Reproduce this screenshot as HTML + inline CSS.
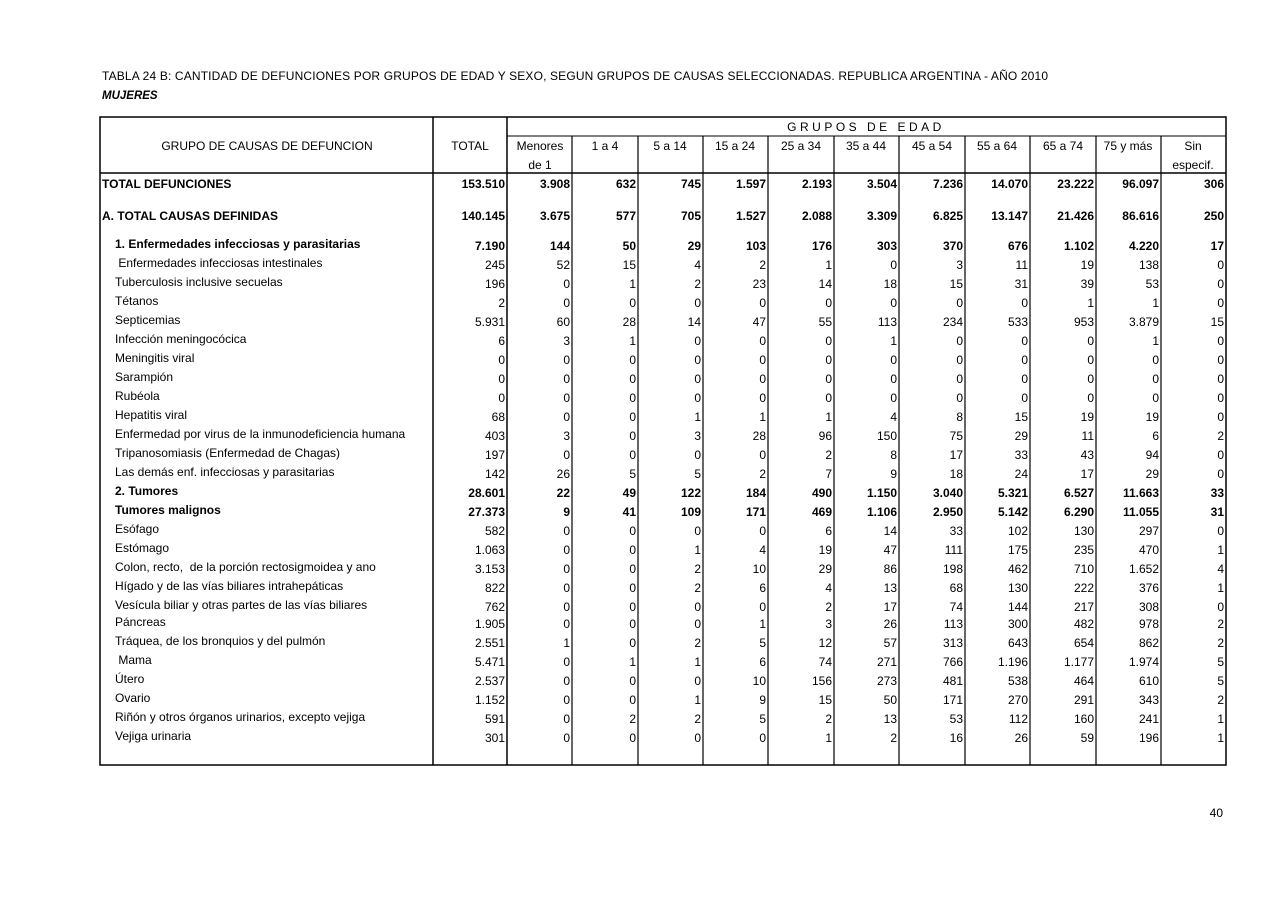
<!DOCTYPE html>
<html><head><meta charset="utf-8"><style>
body{margin:0;background:#fff}
svg{display:block;font-family:"Liberation Sans",Arial,sans-serif;font-size:12px;fill:#000}
.b{font-weight:bold}
</style></head><body>
<svg width="1280" height="905" xmlns="http://www.w3.org/2000/svg">
<text x="102" y="80" font-size="12" textLength="946" lengthAdjust="spacing">TABLA 24 B: CANTIDAD DE DEFUNCIONES POR GRUPOS DE EDAD Y SEXO,  SEGUN GRUPOS DE CAUSAS SELECCIONADAS. REPUBLICA ARGENTINA - AÑO 2010</text>
<text x="102" y="99" class="b" font-style="italic" font-size="11.5">MUJERES</text>
<g stroke="#000" fill="none">
<rect x="100" y="117" width="1126" height="648" stroke-width="1.5"/>
<line x1="100" y1="173" x2="1226" y2="173" stroke-width="1.5"/>
<line x1="507" y1="136" x2="1226" y2="136"/>
<line x1="433" y1="117" x2="433" y2="765" stroke-width="1.5"/>
<line x1="507" y1="117" x2="507" y2="765" stroke-width="1.5"/>
<g stroke-width="1.2">
<line x1="572" y1="136" x2="572" y2="765"/><line x1="638" y1="136" x2="638" y2="765"/>
<line x1="703" y1="136" x2="703" y2="765"/><line x1="768" y1="136" x2="768" y2="765"/>
<line x1="834" y1="136" x2="834" y2="765"/><line x1="899" y1="136" x2="899" y2="765"/>
<line x1="965" y1="136" x2="965" y2="765"/><line x1="1030" y1="136" x2="1030" y2="765"/>
<line x1="1096" y1="136" x2="1096" y2="765"/><line x1="1161" y1="136" x2="1161" y2="765"/>
</g></g>
<text x="866" y="131" text-anchor="middle" letter-spacing="3.5">GRUPOS DE EDAD</text>
<g text-anchor="middle">
<text x="267" y="150">GRUPO DE CAUSAS DE DEFUNCION</text>
<text x="470" y="150">TOTAL</text>
<text x="540" y="150">Menores</text><text x="540" y="169">de 1</text>
<text x="605" y="150">1 a 4</text><text x="670" y="150">5 a 14</text>
<text x="735" y="150">15 a 24</text><text x="801" y="150">25 a 34</text>
<text x="866" y="150">35 a 44</text><text x="932" y="150">45 a 54</text>
<text x="997" y="150">55 a 64</text><text x="1063" y="150">65 a 74</text>
<text x="1128" y="150">75 y más</text>
<text x="1193" y="150">Sin</text><text x="1193" y="169">especif.</text>
</g>
<g id="rows"></g>
<text x="1223" y="817" text-anchor="end">40</text>
</svg>
<script>
const R=[
["TOTAL DEFUNCIONES",102,1,184,"153.510 3.908 632 745 1.597 2.193 3.504 7.236 14.070 23.222 96.097 306"],
["A. TOTAL CAUSAS DEFINIDAS",102,1,216,"140.145 3.675 577 705 1.527 2.088 3.309 6.825 13.147 21.426 86.616 250"],
["1. Enfermedades infecciosas y parasitarias",115,1,246,"7.190 144 50 29 103 176 303 370 676 1.102 4.220 17"],
[" Enfermedades infecciosas intestinales",115,0,265,"245 52 15 4 2 1 0 3 11 19 138 0"],
["Tuberculosis inclusive secuelas",115,0,284,"196 0 1 2 23 14 18 15 31 39 53 0"],
["Tétanos",115,0,303,"2 0 0 0 0 0 0 0 0 1 1 0"],
["Septicemias",115,0,322,"5.931 60 28 14 47 55 113 234 533 953 3.879 15"],
["Infección meningocócica",115,0,341,"6 3 1 0 0 0 1 0 0 0 1 0"],
["Meningitis viral",115,0,360,"0 0 0 0 0 0 0 0 0 0 0 0"],
["Sarampión",115,0,379,"0 0 0 0 0 0 0 0 0 0 0 0"],
["Rubéola",115,0,398,"0 0 0 0 0 0 0 0 0 0 0 0"],
["Hepatitis viral",115,0,417,"68 0 0 1 1 1 4 8 15 19 19 0"],
["Enfermedad por virus de la inmunodeficiencia humana",115,0,436,"403 3 0 3 28 96 150 75 29 11 6 2"],
["Tripanosomiasis (Enfermedad de Chagas)",115,0,455,"197 0 0 0 0 2 8 17 33 43 94 0"],
["Las demás enf. infecciosas y parasitarias",115,0,474,"142 26 5 5 2 7 9 18 24 17 29 0"],
["2. Tumores",115,1,493,"28.601 22 49 122 184 490 1.150 3.040 5.321 6.527 11.663 33"],
["Tumores malignos",115,1,512,"27.373 9 41 109 171 469 1.106 2.950 5.142 6.290 11.055 31"],
["Esófago",115,0,531,"582 0 0 0 0 6 14 33 102 130 297 0"],
["Estómago",115,0,550,"1.063 0 0 1 4 19 47 111 175 235 470 1"],
["Colon, recto,  de la porción rectosigmoidea y ano",115,0,569,"3.153 0 0 2 10 29 86 198 462 710 1.652 4"],
["Hígado y de las vías biliares intrahepáticas",115,0,588,"822 0 0 2 6 4 13 68 130 222 376 1"],
["Vesícula biliar y otras partes de las vías biliares",115,0,607,"762 0 0 0 0 2 17 74 144 217 308 0"],
["Páncreas",115,0,624,"1.905 0 0 0 1 3 26 113 300 482 978 2"],
["Tráquea, de los bronquios y del pulmón",115,0,643,"2.551 1 0 2 5 12 57 313 643 654 862 2"],
[" Mama",115,0,662,"5.471 0 1 1 6 74 271 766 1.196 1.177 1.974 5"],
["Útero",115,0,681,"2.537 0 0 0 10 156 273 481 538 464 610 5"],
["Ovario",115,0,700,"1.152 0 0 1 9 15 50 171 270 291 343 2"],
["Riñón y otros órganos urinarios, excepto vejiga",115,0,719,"591 0 2 2 5 2 13 53 112 160 241 1"],
["Vejiga urinaria",115,0,738,"301 0 0 0 0 1 2 16 26 59 196 1"]];
const X=[506,571,637,702,767,833,898,964,1029,1095,1160,1225];
let s="";
for(const [l,x,b,y,n] of R){
 const c=b?' class="b"':'';
 const ly=(b&&x==102)?y+4:y+2;
 s+=`<text x="${x}" y="${ly}"${c} xml:space="preserve">${l}</text>`;
 n.split(" ").forEach((v,i)=>{s+=`<text x="${X[i]-1}" y="${y+4}" text-anchor="end"${c}>${v}</text>`});
}
document.getElementById("rows").innerHTML=s;
</script>
</body></html>
